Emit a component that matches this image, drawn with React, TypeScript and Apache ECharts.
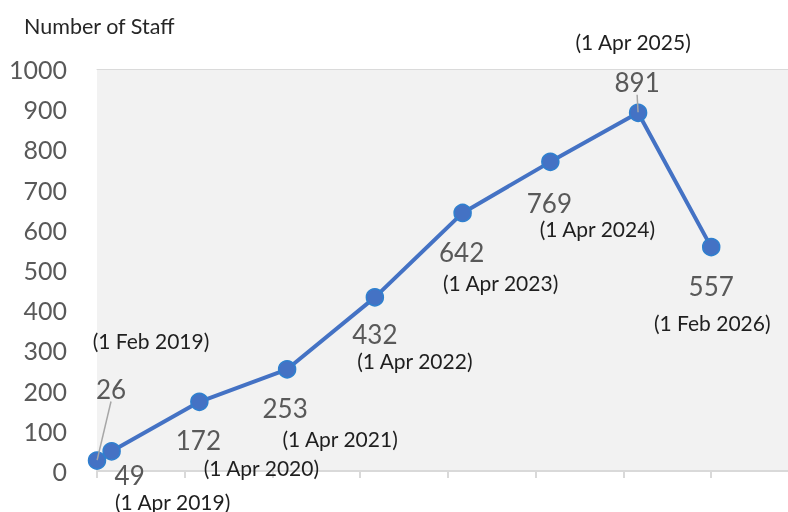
import React, { useEffect, useRef } from "react";
import * as echarts from "echarts";

// ---- data ----
const dates = ["2019-02-01", "2019-04-01", "2020-04-01", "2021-04-01", "2022-04-01", "2023-04-01", "2024-04-01", "2025-04-01", "2026-02-01"];
const dateLabels = ["(1 Feb 2019)", "(1 Apr 2019)", "(1 Apr 2020)", "(1 Apr 2021)", "(1 Apr 2022)", "(1 Apr 2023)", "(1 Apr 2024)", "(1 Apr 2025)", "(1 Feb 2026)"];
const staff = [26, 49, 172, 253, 432, 642, 769, 891, 557];
const yTicks = [0, 100, 200, 300, 400, 500, 600, 700, 800, 900, 1000];
const xTickDates = ["2019-02-01", "2020-02-01", "2021-02-01", "2022-02-01", "2023-02-01", "2024-02-01", "2025-02-01", "2026-02-01"];

// ---- label layout (pixel offsets from each point) ----
const valueOffsets = [[14, -72], [18, 24], [-1, 38], [-2, 39], [0, 37], [-1, 39], [-1, 41], [-1, -31], [0, 39]];
const dateOffsets = [[54, -120], [61, 50], [62, 66], [53, 69], [40, 63], [38, 70], [47, 67], [-5, -71], [1, 75]];
const leaderIdx = [0, 7];

const BASE = { y: 2019, m: 2 };
const monthIndex = (d: string) => {
  const [y, m] = d.split("-").map(Number);
  return (y - BASE.y) * 12 + (m - BASE.m);
};
const xs = dates.map(monthIndex);
const xTicks = xTickDates.map(monthIndex);
const X_MAX = 94.5; // visible month range (axis continues past the right edge)

export default function App() {
  const ref = useRef<HTMLDivElement>(null);
  useEffect(() => {
    if (!ref.current) return;
    const chart = echarts.init(ref.current, undefined, { renderer: "svg" });
    const pts = xs.map((x, i) => [x, staff[i]]);
    const font = "Lato";
    chart.setOption({
      animation: false,
      title: {
        text: "Number of Staff",
        left: 19,
        top: 10,
        textStyle: { fontFamily: font, fontSize: 21.5, fontWeight: "normal", color: "#262626" },
      },
      grid: {
        left: 97,
        top: 69,
        bottom: 41,
        right: 0,
        show: true,
        backgroundColor: "#F2F2F2",
        borderWidth: 0,
        containLabel: false,
      },
      xAxis: [
        {
          type: "value",
          min: 0,
          max: X_MAX,
          interval: 12,
          position: "bottom",
          axisLabel: { show: false },
          axisLine: { show: true, lineStyle: { color: "#D9D9D9", width: 2 } },
          axisTick: {
            show: true,
            length: 7,
            customValues: xTicks,
            lineStyle: { color: "#D9D9D9", width: 2 },
          },
          splitLine: { show: false },
        },
        {
          type: "value",
          min: 0,
          max: X_MAX,
          position: "top",
          axisLabel: { show: false },
          axisLine: { show: true, lineStyle: { color: "#DADADA", width: 1 } },
          axisTick: { show: false },
          splitLine: { show: false },
        },
      ],
      yAxis: {
        type: "value",
        min: yTicks[0],
        max: yTicks[yTicks.length - 1],
        interval: 100,
        axisLine: { show: false },
        axisTick: { show: false },
        splitLine: { show: false },
        axisLabel: {
          fontFamily: font,
          fontSize: 25,
          color: "#595959",
          margin: 30,
          formatter: (v: number) => String(v),
        },
      },
      series: [
        {
          type: "line",
          name: "Staff",
          data: pts.map((p, i) => ({
            value: p,
            label: leaderIdx.includes(i)
              ? { show: false }
              : { show: true, offset: valueOffsets[i] },
          })),
          lineStyle: { color: "#4472C4", width: 4 },
          symbol: "circle",
          symbolSize: 17,
          itemStyle: { color: "#4472C4", borderColor: "#2F80CF", borderWidth: 1.5 },
          label: {
            show: true,
            position: "inside",
            formatter: (p: any) => String(p.value[1]),
            fontFamily: font,
            fontSize: 26,
            color: "#595959",
          },
          z: 3,
        },
        {
          type: "line",
          name: "dates",
          data: pts.map((p, i) => ({ value: p, label: { offset: dateOffsets[i] } })),
          lineStyle: { opacity: 0, width: 0 },
          symbol: "circle",
          symbolSize: 1,
          itemStyle: { color: "rgba(0,0,0,0)" },
          label: {
            show: true,
            position: "inside",
            formatter: (p: any) => dateLabels[p.dataIndex],
            fontFamily: font,
            fontSize: 21,
            color: "#1F1F1F",
          },
          silent: true,
          z: 4,
        },
        {
          type: "line",
          name: "leaders",
          data: pts.map((p, i) => (leaderIdx.includes(i) ? p : "-")),
          connectNulls: false,
          lineStyle: { opacity: 0, width: 0 },
          symbol: "circle",
          symbolSize: 1,
          itemStyle: { color: "rgba(0,0,0,0)" },
          label: {
            show: true,
            position: "inside",
            formatter: (p: any) => String(p.value[1]),
            fontFamily: font,
            fontSize: 26,
            color: "#595959",
          },
          labelLine: { show: true, lineStyle: { color: "#A6A6A6", width: 1.5 } },
          labelLayout: (params: any) => ({
            dx: valueOffsets[params.dataIndex][0],
            dy: valueOffsets[params.dataIndex][1],
          }),
          silent: true,
          z: 5,
        },
      ],
    });
    return () => chart.dispose();
  }, []);
  return (
    <div
      ref={ref}
      style={{ position: "fixed", left: 0, top: 0, width: 788, height: 512 }}
    />
  );
}
